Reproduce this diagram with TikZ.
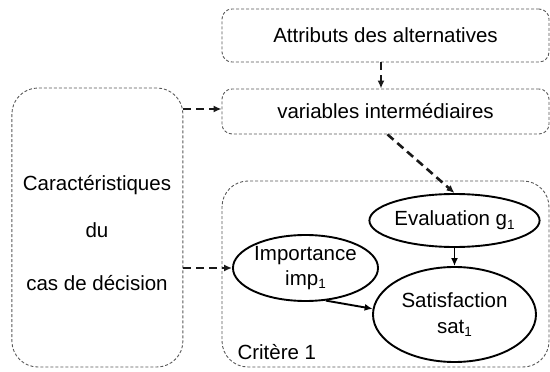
\documentclass[tikz,border=0pt]{standalone}
\usepackage{fontspec}
\setmainfont{Liberation Sans}
\usetikzlibrary{arrows.meta,shapes.geometric}
\newcommand{\mysub}[1]{\raisebox{-0.3ex}{\fontsize{13.5}{13.5}\selectfont #1}}
\begin{document}
\begin{tikzpicture}[x=1pt,y=-1pt,
  every node/.style={font=\fontsize{20.5}{25.5}\selectfont, text=black},
  dbox/.style={draw=black!65, line width=0.9pt, dash pattern=on 3pt off 2pt, inner sep=0pt},
  ell/.style={draw=black, ellipse, line width=1.9pt, inner sep=0pt, align=center},
  dconn/.style={draw=black!90, line width=2.6pt, dash pattern=on 8pt off 5pt, -{Latex[length=8pt,width=7pt]}},
  sconn/.style={draw=black, line width=1.9pt, -{Latex[length=8pt,width=7pt]}}
]
\useasboundingbox (0,0) rectangle (550,372);
\node[dbox, rounded corners=10pt, minimum width=327pt, minimum height=53pt] (attr) at (385.5,35.5) {Attributs des alternatives};
\node[dbox, rounded corners=10pt, minimum width=327pt, minimum height=45pt] (var) at (385.5,111.5) {variables intermédiaires};
\node[dbox, rounded corners=26pt, minimum width=171pt, minimum height=279pt] (left) at (97.4,227.5) {};
\node[dbox, rounded corners=26pt, minimum width=327pt, minimum height=186pt] (crit) at (385.5,274) {};
\node (t1) at (97,185) {Caractéristiques};
\node (t2) at (97,230) {du};
\node (t3) at (97,283) {cas de décision};
\node[anchor=west] (c1) at (234,352) {Critère 1};
\node[ell, minimum width=145pt, minimum height=53pt] (eval) at (454.5,220.5) {Evaluation g\mysub{1}};
\node[ell, minimum width=141pt, minimum height=66pt] (imp) at (305.5,268) {Importance\\imp\mysub{1}};
\node[ell, minimum width=163pt, minimum height=95pt] (sat) at (454.5,314.5) {Satisfaction\\sat\mysub{1}};
\draw[dconn] ([xshift=-4.5pt]attr.south) -- ([xshift=-4.5pt]var.north);
\draw[dconn] ([yshift=2.5pt]left.east |- var.west) -- ([yshift=2.5pt]var.west);
\draw[dconn] ([xshift=2pt]var.south) -- (eval.north);
\draw[dconn] (left.east |- imp.west) -- (imp.west);
\draw[sconn] (eval.south) -- (sat.north);
\draw[sconn] (imp.-58) -- (sat.176);
\end{tikzpicture}
\end{document}
